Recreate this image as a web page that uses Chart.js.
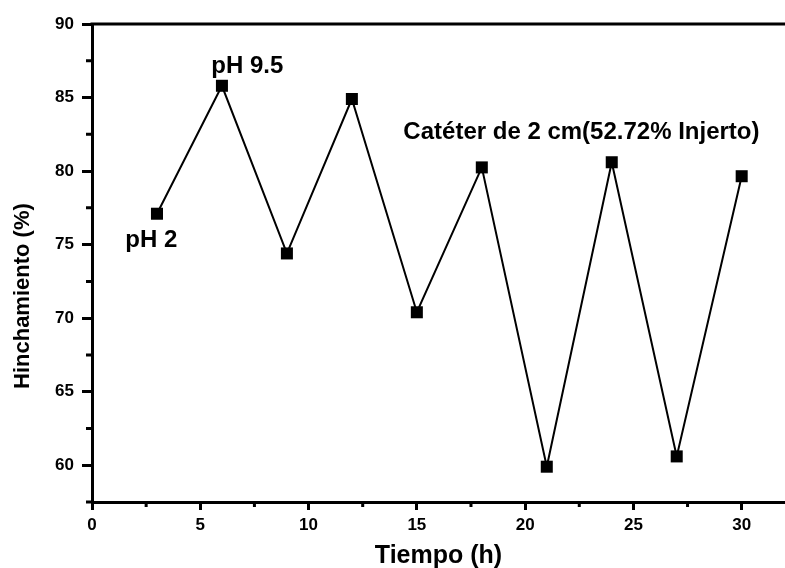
<!DOCTYPE html>
<html>
<head>
<meta charset="utf-8">
<script src="https://cdn.jsdelivr.net/npm/chart.js@4.4.0/dist/chart.umd.min.js"></script>
<style>
  html, body { margin: 0; padding: 0; background: #fff; overflow: hidden; }
  canvas { display: block; }
</style>
</head>
<body>
<canvas id="chart" width="785" height="568"></canvas>
<script>
// datos
const tiempo = [3, 6, 9, 12, 15, 18, 21, 24, 27, 30];
const hinchamiento = [77.1, 85.8, 74.4, 84.9, 70.4, 80.25, 59.9, 80.6, 60.6, 79.65];
const xTicks = [0, 5, 10, 15, 20, 25, 30];
const yTicks = [60, 65, 70, 75, 80, 85, 90];
const xMinor = [2.5, 7.5, 12.5, 17.5, 22.5, 27.5];
const yMinor = [57.5, 62.5, 67.5, 72.5, 77.5, 82.5, 87.5];
const notas = [
    { text: 'pH 2', x: 2.74, y: 75.3 },
    { text: 'pH 9.5', x: 7.17, y: 87.1 },
    { text: 'Catéter de 2 cm(52.72% Injerto)', x: 22.6, y: 82.65 }
];
const tituloY = 'Hinchamiento (%)';

const fuente = 'Liberation Sans, Arial, sans-serif';

// marco superior, ticks menores, título del eje y y textos
const extras = {
    id: 'extras',
    afterDraw(chart) {
        const ctx = chart.ctx;
        const a = chart.chartArea;
        const xs = chart.scales.x, ys = chart.scales.y;
        ctx.save();
        ctx.strokeStyle = '#000';
        ctx.lineWidth = 3;
        ctx.beginPath();
        ctx.moveTo(a.left - 1.5, a.top);
        ctx.lineTo(a.right, a.top);
        ctx.stroke();
        ctx.beginPath();
        xMinor.forEach(v => {
            const px = xs.getPixelForValue(v);
            ctx.moveTo(px, a.bottom);
            ctx.lineTo(px, a.bottom + 5);
        });
        yMinor.forEach(v => {
            const py = ys.getPixelForValue(v);
            ctx.moveTo(a.left, py);
            ctx.lineTo(a.left - 6, py);
        });
        ctx.stroke();

        ctx.fillStyle = '#000';
        ctx.textAlign = 'center';
        ctx.textBaseline = 'middle';
        ctx.font = 'bold 24px ' + fuente;
        notas.forEach(n => {
            ctx.fillText(n.text, xs.getPixelForValue(n.x), ys.getPixelForValue(n.y));
        });

        ctx.font = 'bold 22px ' + fuente;
        ctx.translate(23, ys.getPixelForValue(71.5));
        ctx.rotate(-Math.PI / 2);
        ctx.fillText(tituloY, 0, 0);
        ctx.restore();
    }
};

new Chart(document.getElementById('chart'), {
    type: 'scatter',
    data: {
        datasets: [{
            data: tiempo.map((t, i) => ({ x: t, y: hinchamiento[i] })),
            showLine: true,
            borderColor: '#000',
            borderWidth: 2,
            backgroundColor: '#000',
            pointStyle: 'rect',
            pointRadius: 8.5,
            pointHoverRadius: 8.5,
            pointBorderWidth: 0
        }]
    },
    options: {
        responsive: false,
        animation: false,
        layout: { autoPadding: false, padding: { top: 24, right: 0, left: 0, bottom: 0 } },
        plugins: { legend: { display: false }, tooltip: { enabled: false } },
        scales: {
            x: {
                type: 'linear',
                min: 0,
                max: 32,
                afterBuildTicks: s => { s.ticks = xTicks.map(v => ({ value: v })); },
                afterFit: s => { s.height = 66; s.paddingLeft = 0; s.paddingRight = 0; },
                border: { display: true, color: '#000', width: 3 },
                grid: { drawOnChartArea: false, drawTicks: true, tickLength: 8, lineWidth: 3, color: '#000' },
                ticks: { color: '#000', font: { family: fuente, weight: 'bold', size: 17 }, padding: 5, maxRotation: 0 },
                title: {
                    display: true,
                    text: 'Tiempo (h)',
                    color: '#000',
                    font: { family: fuente, weight: 'bold', size: 25, lineHeight: 1 },
                    padding: { top: 0, bottom: -1 }
                }
            },
            y: {
                type: 'linear',
                min: 57.5,
                max: 90,
                afterBuildTicks: s => { s.ticks = yTicks.map(v => ({ value: v })); },
                afterFit: s => { s.width = 92; },
                border: { display: true, color: '#000', width: 3 },
                grid: { drawOnChartArea: false, drawTicks: true, tickLength: 10, lineWidth: 3, color: '#000' },
                ticks: { color: '#000', font: { family: fuente, weight: 'bold', size: 17 }, padding: 8 },
                title: { display: false }
            }
        }
    },
    plugins: [extras]
});
</script>
</body>
</html>
